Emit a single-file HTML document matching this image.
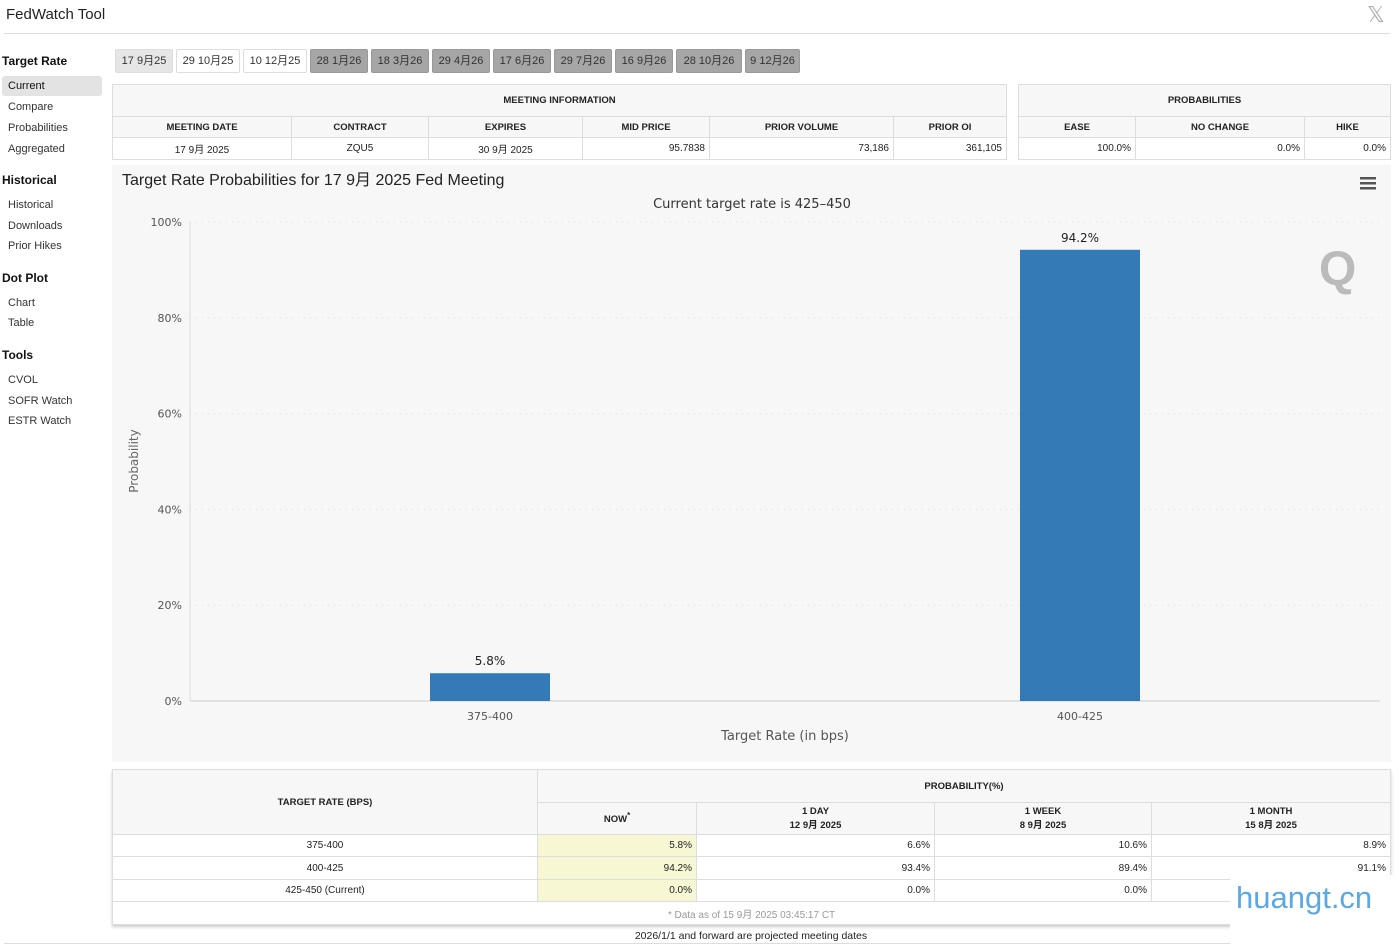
<!DOCTYPE html>
<html><head><meta charset="utf-8">
<style>
*{box-sizing:border-box;margin:0;padding:0}
body{width:1399px;height:945px;background:#fff;font-family:"Liberation Sans","Noto Sans CJK SC",sans-serif;color:#222;position:relative;overflow:hidden;font-size:11px}
.abs{position:absolute}
.side{position:absolute;left:8px;font-size:11px;color:#333}
.sh{position:absolute;left:2px;font-size:12px;font-weight:bold;color:#111}
.tab{position:absolute;top:49px;height:24px;border:1px solid #ddd;border-radius:2px;font-size:11px;line-height:22px;text-align:center;color:#333;background:#fff}
.tab.g{background:#a6a6a6;border-color:#999;color:#333}
.tab.s{background:#e6e6e6}
table{position:absolute;border-collapse:collapse;font-size:10px}
td{border:1px solid #ddd;padding:0 4px}
.h td{background:#f7f7f7;font-weight:bold;text-align:center;font-size:9.5px}
.r{text-align:right}.c{text-align:center}
.y{background:#f7f7d4}
</style></head><body>
<div class="abs" style="left:6px;top:6px;font-size:15px;color:#222">FedWatch Tool</div>
<div class="abs" style="left:1367px;top:2px;font-size:22px;color:#aaa">𝕏</div>
<div class="abs" style="left:4px;top:33px;width:1386px;height:1px;background:#ddd"></div>

<div class="sh" style="top:54px">Target Rate</div>
<div class="abs" style="left:2px;top:76px;width:100px;height:20px;background:#e3e3e3;border-radius:3px"></div>
<div class="side" style="top:80px;color:#111">Current</div>
<div class="side" style="top:101px">Compare</div>
<div class="side" style="top:122px">Probabilities</div>
<div class="side" style="top:143px">Aggregated</div>
<div class="sh" style="top:173px">Historical</div>
<div class="side" style="top:199px">Historical</div>
<div class="side" style="top:220px">Downloads</div>
<div class="side" style="top:240px">Prior Hikes</div>
<div class="sh" style="top:271px">Dot Plot</div>
<div class="side" style="top:297px">Chart</div>
<div class="side" style="top:317px">Table</div>
<div class="sh" style="top:348px">Tools</div>
<div class="side" style="top:374px">CVOL</div>
<div class="side" style="top:395px">SOFR Watch</div>
<div class="side" style="top:415px">ESTR Watch</div>

<div class="tab s" style="left:115px;width:58px">17 9月25</div>
<div class="tab" style="left:176px;width:64px">29 10月25</div>
<div class="tab" style="left:243px;width:64px">10 12月25</div>
<div class="tab g" style="left:310px;width:58px">28 1月26</div>
<div class="tab g" style="left:371px;width:58px">18 3月26</div>
<div class="tab g" style="left:432px;width:58px">29 4月26</div>
<div class="tab g" style="left:493px;width:58px">17 6月26</div>
<div class="tab g" style="left:554px;width:58px">29 7月26</div>
<div class="tab g" style="left:615px;width:58px">16 9月26</div>
<div class="tab g" style="left:676px;width:66px">28 10月26</div>
<div class="tab g" style="left:745px;width:55px">9 12月26</div>

<table style="left:112px;top:84px;width:895px">
<tr class="h" style="height:32px"><td colspan="6">MEETING INFORMATION</td></tr>
<tr class="h" style="height:21px"><td style="width:179px">MEETING DATE</td><td style="width:137px">CONTRACT</td><td style="width:154px">EXPIRES</td><td style="width:127px">MID PRICE</td><td style="width:184px">PRIOR VOLUME</td><td>PRIOR OI</td></tr>
<tr style="height:22px"><td class="c">17 9月 2025</td><td class="c">ZQU5</td><td class="c">30 9月 2025</td><td class="r">95.7838</td><td class="r">73,186</td><td class="r">361,105</td></tr>
</table>
<table style="left:1018px;top:84px;width:373px">
<tr class="h" style="height:32px"><td colspan="3">PROBABILITIES</td></tr>
<tr class="h" style="height:21px"><td style="width:117px">EASE</td><td style="width:169px">NO CHANGE</td><td>HIKE</td></tr>
<tr style="height:22px"><td class="r">100.0%</td><td class="r">0.0%</td><td class="r">0.0%</td></tr>
</table>

<svg id="chart" class="abs" style="left:112px;top:165px" width="1279" height="597"></svg>

<table style="left:112px;top:769px;width:1279px;box-shadow:0 2px 3px #ccc">
<tr class="h" style="height:33px"><td rowspan="2" style="width:425px;background:#f7f7f7">TARGET RATE (BPS)</td><td colspan="4">PROBABILITY(%)</td></tr>
<tr class="h" style="height:32px"><td style="width:159px">NOW<sup>*</sup></td><td style="width:238px">1 DAY<br>12 9月 2025</td><td style="width:217px">1 WEEK<br>8 9月 2025</td><td>1 MONTH<br>15 8月 2025</td></tr>
<tr style="height:22px"><td class="c">375-400</td><td class="r y">5.8%</td><td class="r">6.6%</td><td class="r">10.6%</td><td class="r">8.9%</td></tr>
<tr style="height:23px"><td class="c">400-425</td><td class="r y">94.2%</td><td class="r">93.4%</td><td class="r">89.4%</td><td class="r">91.1%</td></tr>
<tr style="height:22px"><td class="c">425-450 (Current)</td><td class="r y">0.0%</td><td class="r">0.0%</td><td class="r">0.0%</td><td class="r">0.0%</td></tr>
<tr style="height:23px"><td colspan="5" class="c" style="color:#999">* Data as of 15 9月 2025 03:45:17 CT</td></tr>
</table>
<div class="abs" style="left:0;width:1502px;text-align:center;top:930px;font-size:10.5px">2026/1/1 and forward are projected meeting dates</div>
<div class="abs" style="left:4px;top:943px;width:1386px;height:1px;background:#ddd"></div>
<div class="abs" style="left:1230px;top:875px;width:169px;height:70px;background:#fff"></div>
<div class="abs" style="left:1236px;top:880px;font-size:31px;color:#5aa8e6">huangt.cn</div>

<script>
const categories = ["375-400", "400-425"];
const values = [5.8, 94.2];
const yTicks = [0, 20, 40, 60, 80, 100];
const yTickLabels = ["0%", "20%", "40%", "60%", "80%", "100%"];
const NS = "http://www.w3.org/2000/svg";
const svg = document.getElementById("chart");
function mk(tag, attrs, parent){const e=document.createElementNS(NS,tag);for(const k in attrs)e.setAttribute(k,attrs[k]);(parent||svg).appendChild(e);return e;}
const L=78, R=1268, T=57, B=536;
const BL=83, BR=1263;
const y = v => B - (v/100)*(B-T);
const band = (BR-BL)/categories.length;
const xc = i => BL + band*(i+0.5);
let bg = mk("rect",{x:0,y:0,width:1279,height:597,fill:"#f7f7f7"});


let t = mk("text",{x:10,y:20,"font-size":16,fill:"#222","font-family":"Liberation Sans, Noto Sans CJK SC, sans-serif"});
t.textContent = "Target Rate Probabilities for 17 9月 2025 Fed Meeting";


let st = mk("text",{x:640,y:43,"font-size":13,fill:"#333","text-anchor":"middle","font-family":"DejaVu Sans, sans-serif"});
st.textContent = "Current target rate is 425–450";


let menu = mk("g",{});


[0,5,10].forEach(d=>mk("rect",{x:1248,y:12+d,width:16,height:2.5,fill:"#555"},menu));
let q = mk("text",{x:1207,y:120,"font-size":48,fill:"#bbb","font-weight":"bold","font-family":"Liberation Sans, sans-serif"});
q.textContent="Q";


yTicks.forEach((v,i)=>{
  const g = mk("line",{x1:L,x2:R,y1:y(v),y2:y(v),stroke:v===0?"#ccc":"#ddd","stroke-dasharray":v===0?"":"1,5"});
  
  
  const lb = mk("text",{x:L-8,y:y(v)+4,"font-size":11,fill:"#555","text-anchor":"end","font-family":"DejaVu Sans, sans-serif"});
  lb.textContent = yTickLabels[i];
  
  
});
mk("line",{x1:L,x2:L,y1:T,y2:B,stroke:"#ddd"});
categories.forEach((c,i)=>{
  const bw=120;
  const r = mk("rect",{x:xc(i)-bw/2,y:y(values[i]),width:bw,height:B-y(values[i]),fill:"#337ab7"});
  
  
  const vl = mk("text",{x:xc(i),y:y(values[i])-8,"font-size":12,fill:"#222","text-anchor":"middle","font-family":"DejaVu Sans, sans-serif"});
  vl.textContent = values[i].toFixed(1)+"%";
  
  
  const xl = mk("text",{x:xc(i),y:B+19,"font-size":11,fill:"#555","text-anchor":"middle","font-family":"DejaVu Sans, sans-serif"});
  xl.textContent = c;
  
  
});
let xt = mk("text",{x:673,y:575,"font-size":13,fill:"#555","text-anchor":"middle","font-family":"DejaVu Sans, sans-serif"});
xt.textContent="Target Rate (in bps)";


let yt = mk("text",{x:0,y:0,"font-size":12,fill:"#666","text-anchor":"middle","font-family":"DejaVu Sans, sans-serif",transform:"translate(26,296) rotate(-90)"});
yt.textContent="Probability";


</script>
</body></html>
